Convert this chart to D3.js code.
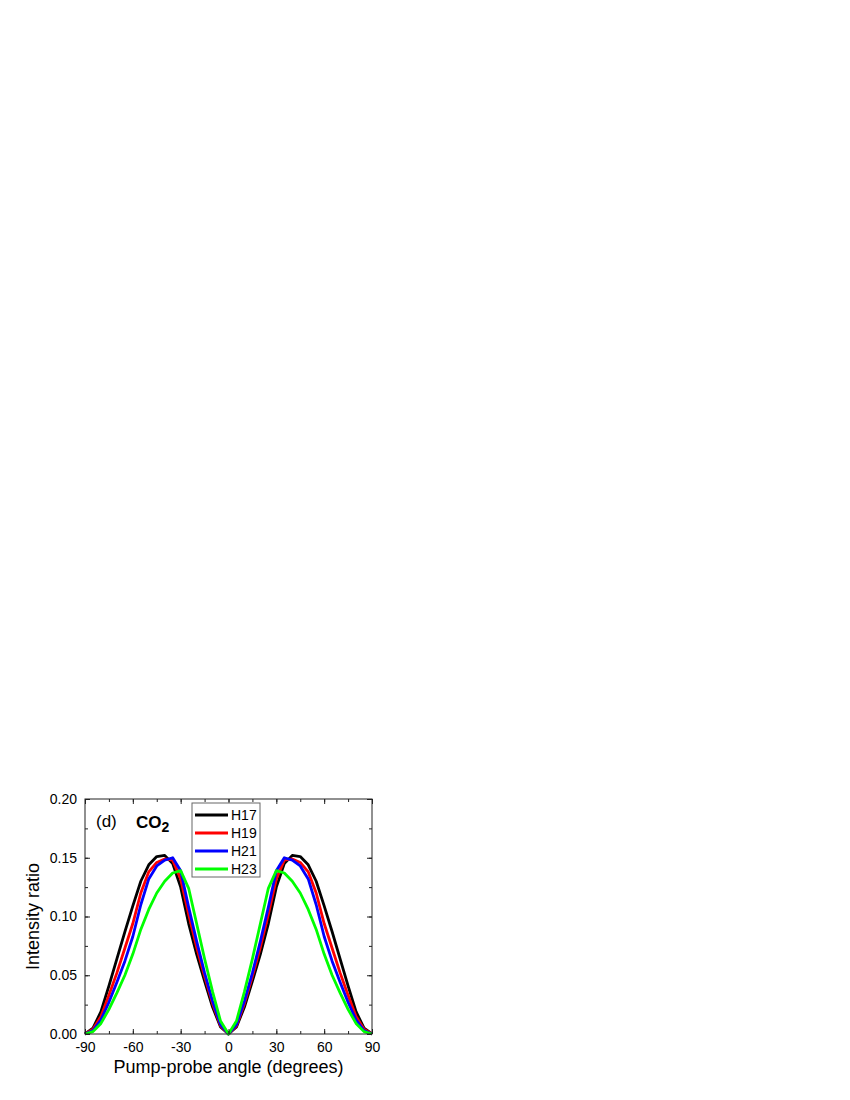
<!DOCTYPE html>
<html>
<head>
<meta charset="utf-8">
<script src="https://cdn.jsdelivr.net/npm/d3@7"></script>
<style>
    body { margin: 0; background: #fff; }
    svg { display: block; }
    text { font-family: "Liberation Sans", Arial, sans-serif; fill: #000; }
</style>
</head>
<body>
<svg id="chart" width="850" height="1100"></svg>
<script>
    // pump-probe angle, every 5 degrees
    var angles = d3.range(-90, 91, 5);

    var h17 = [0.000, 0.005, 0.019, 0.041, 0.064, 0.087, 0.109, 0.130, 0.144, 0.151, 0.152, 0.145, 0.125, 0.094, 0.068, 0.045, 0.023, 0.006, 0.000,
               0.006, 0.023, 0.045, 0.068, 0.094, 0.125, 0.145, 0.152, 0.151, 0.144, 0.130, 0.109, 0.087, 0.064, 0.041, 0.019, 0.005, 0.000];
    var h19 = [0.000, 0.004, 0.015, 0.033, 0.052, 0.073, 0.094, 0.120, 0.138, 0.146, 0.149, 0.148, 0.132, 0.102, 0.074, 0.049, 0.026, 0.007, 0.000,
               0.007, 0.026, 0.049, 0.074, 0.102, 0.132, 0.148, 0.149, 0.146, 0.138, 0.120, 0.094, 0.073, 0.052, 0.033, 0.015, 0.004, 0.000];
    var h21 = [0.000, 0.003, 0.012, 0.027, 0.044, 0.062, 0.083, 0.110, 0.132, 0.143, 0.148, 0.150, 0.139, 0.108, 0.079, 0.052, 0.028, 0.008, 0.000,
               0.008, 0.028, 0.052, 0.079, 0.108, 0.139, 0.150, 0.148, 0.143, 0.132, 0.110, 0.083, 0.062, 0.044, 0.027, 0.012, 0.003, 0.000];
    var h23 = [0.000, 0.002, 0.009, 0.021, 0.035, 0.050, 0.068, 0.089, 0.106, 0.120, 0.130, 0.137, 0.139, 0.124, 0.094, 0.064, 0.036, 0.011, 0.000,
               0.011, 0.036, 0.064, 0.094, 0.124, 0.139, 0.137, 0.130, 0.120, 0.106, 0.089, 0.068, 0.050, 0.035, 0.021, 0.009, 0.002, 0.000];

    var seriesNames = ["H17", "H19", "H21", "H23"];
    var seriesColors = ["#000000", "#ff0000", "#0000ff", "#00ff00"];
    var seriesValues = [h17, h19, h21, h23];

    var xTicks = [-90, -60, -30, 0, 30, 60, 90];
    var yTicks = [0.00, 0.05, 0.10, 0.15, 0.20];

    // plot box (note: "top" is reserved on window, so use a box object)
    var box = {l: 85, r: 372, t: 799, b: 1034};

    var svg = d3.select("#chart");
    var x = d3.scaleLinear().domain([-90, 90]).range([box.l, box.r]);
    var y = d3.scaleLinear().domain([0, 0.20]).range([box.b, box.t]);

    var line = d3.line()
        .x(function(d) { return x(d[0]); })
        .y(function(d) { return y(d[1]); });

    // curves
    seriesValues.forEach(function(vals, i) {
        svg.append("path")
            .datum(angles.map(function(a, j) { return [a, vals[j]]; }))
            .attr("d", line)
            .attr("fill", "none")
            .attr("stroke", seriesColors[i])
            .attr("stroke-width", 2.8)
            .attr("stroke-linejoin", "round");
    });

    // frame
    svg.append("rect")
        .attr("x", box.l).attr("y", box.t)
        .attr("width", box.r - box.l).attr("height", box.b - box.t)
        .attr("fill", "none").attr("stroke", "#222").attr("stroke-width", 1);

    // axes with inward ticks on all sides
    function styleAxis(g) {
        g.attr("font-size", null).attr("font-family", null);
        g.select(".domain").remove();
        g.selectAll(".tick line").attr("stroke", "#222");
        g.selectAll(".tick text").attr("font-size", "14px").attr("fill", "#000");
    }

    var xMinor = d3.range(-90, 91, 15);
    var yMinor = d3.range(0, 0.2001, 0.025);

    svg.append("g").attr("transform", "translate(0," + box.b + ")")
        .call(d3.axisBottom(x).tickValues(xMinor).tickSize(-3).tickFormat(""))
        .call(styleAxis);
    svg.append("g").attr("transform", "translate(0," + box.b + ")")
        .call(d3.axisBottom(x).tickValues(xTicks).tickSize(-5).tickPadding(8.5).tickFormat(function(d) { return String(d); }))
        .call(styleAxis);
    svg.append("g").attr("transform", "translate(0," + box.t + ")")
        .call(d3.axisTop(x).tickValues(xMinor).tickSize(-3).tickFormat(""))
        .call(styleAxis);
    svg.append("g").attr("transform", "translate(0," + box.t + ")")
        .call(d3.axisTop(x).tickValues(xTicks).tickSize(-5).tickFormat(""))
        .call(styleAxis);

    svg.append("g").attr("transform", "translate(" + box.l + ",0)")
        .call(d3.axisLeft(y).tickValues(yMinor).tickSize(-3).tickFormat(""))
        .call(styleAxis);
    svg.append("g").attr("transform", "translate(" + box.l + ",0)")
        .call(d3.axisLeft(y).tickValues(yTicks).tickSize(-5).tickPadding(8).tickFormat(d3.format(".2f")))
        .call(styleAxis);
    svg.append("g").attr("transform", "translate(" + box.r + ",0)")
        .call(d3.axisRight(y).tickValues(yMinor).tickSize(-3).tickFormat(""))
        .call(styleAxis);
    svg.append("g").attr("transform", "translate(" + box.r + ",0)")
        .call(d3.axisRight(y).tickValues(yTicks).tickSize(-5).tickFormat(""))
        .call(styleAxis);

    // axis titles
    svg.append("text")
        .attr("x", (box.l + box.r) / 2).attr("y", 1073)
        .attr("text-anchor", "middle").attr("font-size", "18px")
        .text("Pump-probe angle (degrees)");
    svg.append("text")
        .attr("transform", "translate(39," + (box.t + box.b) / 2 + ") rotate(-90)")
        .attr("text-anchor", "middle").attr("font-size", "18px")
        .text("Intensity ratio");

    // panel label
    svg.append("text").attr("x", 96).attr("y", 827).attr("font-size", "17px").text("(d)");
    var co2 = svg.append("text").attr("x", 136).attr("y", 828).attr("font-size", "17px").attr("font-weight", "bold");
    co2.append("tspan").text("CO");
    co2.append("tspan").attr("dy", 4).attr("font-size", "14px").text("2");

    // legend
    var legend = svg.append("g");
    legend.append("rect")
        .attr("x", 192).attr("y", 803).attr("width", 68).attr("height", 74)
        .attr("fill", "#fff").attr("stroke", "#666").attr("stroke-width", 1);
    seriesNames.forEach(function(name, i) {
        var ly = 815 + i * 18;
        legend.append("line")
            .attr("x1", 195).attr("x2", 228).attr("y1", ly).attr("y2", ly)
            .attr("stroke", seriesColors[i]).attr("stroke-width", 2.8);
        legend.append("text")
            .attr("x", 231).attr("y", ly + 5).attr("font-size", "14px")
            .text(name);
    });
</script>
</body>
</html>
